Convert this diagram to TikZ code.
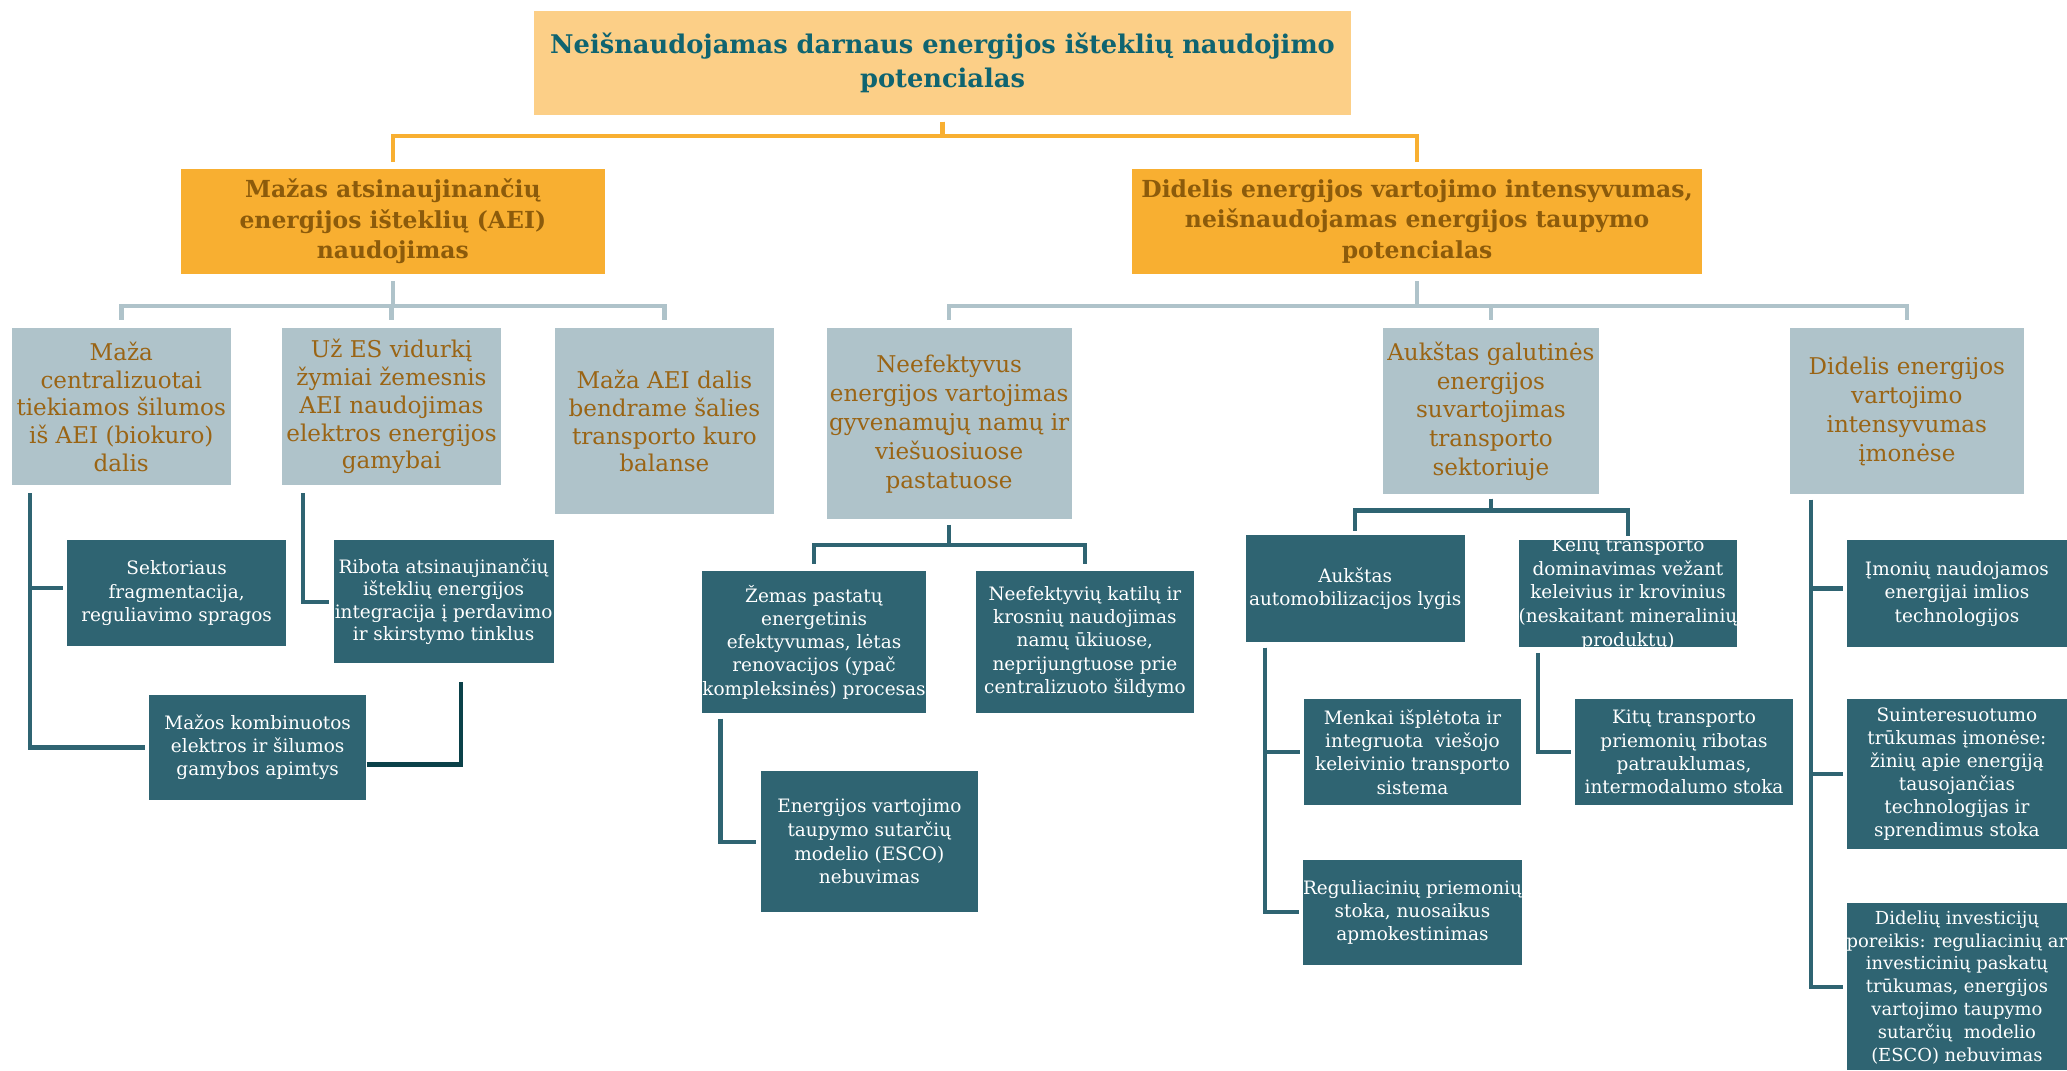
\documentclass[tikz,border=0pt]{standalone}
\usepackage{fontspec}
\setmainfont{DejaVu Serif}

\definecolor{titlefill}{HTML}{FCCF87}
\definecolor{titletext}{HTML}{0F6470}
\definecolor{headfill}{HTML}{F8AF31}
\definecolor{headtext}{HTML}{8C5B0B}
\definecolor{causefill}{HTML}{AFC3CA}
\definecolor{causetext}{HTML}{9A6414}
\definecolor{leaffill}{HTML}{2F6472}
\definecolor{darkline}{HTML}{0B4149}

\tikzset{
  titlebox/.style={fill=titlefill, text=titletext, align=center, inner sep=0pt,
    font=\bfseries\fontsize{19.5}{26}\selectfont},
  headbox/.style={fill=headfill, text=headtext, align=center, inner sep=0pt,
    font=\bfseries\fontsize{17.8}{23}\selectfont},
  causebox/.style={fill=causefill, text=causetext, align=center, inner sep=0pt,
    font=\fontsize{17.5}{21}\selectfont},
  leafbox/.style={fill=leaffill, text=white, align=center, inner sep=0pt,
    font=\fontsize{14}{17.6}\selectfont},
  leaftext/.style={text=white, align=center, inner sep=0pt,
    font=\fontsize{14}{17.6}\selectfont},
  oconn/.style={draw=headfill, line width=3.2pt, shorten <=5pt, shorten >=5pt},
  gconn/.style={draw=causefill, line width=3.4pt, shorten <=5pt, shorten >=6pt},
  tconn/.style={draw=leaffill, line width=3.2pt, shorten <=3pt, shorten >=3pt},
  side/.style={draw=leaffill, line width=3.2pt, shorten >=3pt},
  dconn/.style={draw=darkline, line width=3.2pt},
}

\begin{document}
\begin{tikzpicture}[x=1pt,y=-1pt]
\useasboundingbox (0,0) rectangle (1568,812);

% ---- root and the two main problem areas
\node[titlebox, minimum width=620pt, minimum height=79pt] (title) at (715,47.5)
  {Neišnaudojamas darnaus energijos išteklių naudojimo\\potencialas};
\node[headbox, minimum width=322pt, minimum height=80pt] (l1a) at (298,168)
  {Mažas atsinaujinančių\\energijos išteklių (AEI)\\naudojimas};
\node[headbox, minimum width=432pt, minimum height=80pt] (l1b) at (1075,168)
  {Didelis energijos vartojimo intensyvumas,\\neišnaudojamas energijos taupymo\\potencialas};

% ---- causes
\node[causebox, minimum width=166pt, minimum height=119pt] (a1) at (92,308.5)
  {Maža\\centralizuotai\\tiekiamos šilumos\\iš AEI (biokuro)\\dalis};
\node[causebox, minimum width=166pt, minimum height=119pt] (a2) at (297,308.5)
  {Už ES vidurkį\\žymiai žemesnis\\AEI naudojimas\\elektros energijos\\gamybai};
\node[causebox, minimum width=166pt, minimum height=141pt] (a3) at (504,319.5)
  {Maža AEI dalis\\bendrame šalies\\transporto kuro\\balanse};
\node[causebox, minimum width=186pt, minimum height=145pt,
  font=\fontsize{17.5}{22}\selectfont] (b1) at (720,321.5)
  {Neefektyvus\\energijos vartojimas\\gyvenamųjų namų ir\\viešuosiuose\\pastatuose};
\node[causebox, minimum width=164pt, minimum height=126pt,
  font=\fontsize{17.5}{21.7}\selectfont] (b2) at (1131,312)
  {Aukštas galutinės\\energijos\\suvartojimas\\transporto\\sektoriuje};
\node[causebox, minimum width=177pt, minimum height=126pt,
  font=\fontsize{17.5}{22}\selectfont] (b3) at (1446.5,312)
  {Didelis energijos\\vartojimo\\intensyvumas\\įmonėse};

% ---- detailed factors
\node[leafbox, minimum width=166pt, minimum height=80pt] (s1) at (134,450)
  {Sektoriaus\\fragmentacija,\\reguliavimo spragos};
\node[leafbox, minimum width=165pt, minimum height=80pt] (s2) at (195.5,567)
  {Mažos kombinuotos\\elektros ir šilumos\\gamybos apimtys};
\node[leafbox, minimum width=167pt, minimum height=93pt,
  font=\fontsize{14}{17}\selectfont] (r1) at (336.5,456.5)
  {Ribota atsinaujinančių\\išteklių energijos\\integracija į perdavimo\\ir skirstymo tinklus};

\node[leafbox, minimum width=165pt, minimum height=108pt] (z1) at (617.5,487)
  {Žemas pastatų\\energetinis\\efektyvumas, lėtas\\renovacijos (ypač\\kompleksinės) procesas};
\node[leafbox, minimum width=166pt, minimum height=108pt] (z2) at (823,487)
  {Neefektyvių katilų ir\\krosnių naudojimas\\namų ūkiuose,\\neprijungtuose prie\\centralizuoto šildymo};
\node[leafbox, minimum width=165pt, minimum height=107pt, font=\fontsize{14}{18}\selectfont]
  (z3) at (659.5,638.5)
  {Energijos vartojimo\\taupymo sutarčių\\modelio (ESCO)\\nebuvimas};

\node[leafbox, minimum width=166pt, minimum height=81pt] (t1) at (1028,446.5)
  {Aukštas\\automobilizacijos lygis};
\node[leafbox, minimum width=166pt, minimum height=81pt] (t2) at (1235,450.5) {};
\node[leaftext, font=\fontsize{14}{18}\selectfont] (t2txt) at (t2.center)
  {Kelių transporto\\dominavimas vežant\\keleivius ir krovinius\\(neskaitant mineralinių\\produktų)};
\node[leafbox, minimum width=165pt, minimum height=81pt] (t3) at (1071.5,570.5)
  {Menkai išplėtota ir\\integruota\ \ viešojo\\keleivinio transporto\\sistema};
\node[leafbox, minimum width=165pt, minimum height=81pt] (t4) at (1277.5,570.5)
  {Kitų transporto\\priemonių ribotas\\patrauklumas,\\intermodalumo stoka};
\node[leafbox, minimum width=165pt, minimum height=80pt] (t5) at (1071.5,692)
  {Reguliacinių priemonių\\stoka, nuosaikus\\apmokestinimas};

\node[leafbox, minimum width=167pt, minimum height=81pt] (i1) at (1484.5,450.5)
  {Įmonių naudojamos\\energijai imlios\\technologijos};
\node[leafbox, minimum width=167pt, minimum height=114pt, font=\fontsize{14}{17.4}\selectfont]
  (i2) at (1484.5,587)
  {Suinteresuotumo\\trūkumas įmonėse:\\žinių apie energiją\\tausojančias\\technologijas ir\\sprendimus stoka};
\node[leafbox, minimum width=167pt, minimum height=127pt] (i3) at (1484.5,748.5) {};
\node[leaftext, font=\fontsize{13.6}{17.3}\selectfont] (i3txt) at (1484.5,749)
  {Didelių investicijų\\poreikis: reguliacinių ar\\investicinių paskatų\\trūkumas, energijos\\vartojimo taupymo\\sutarčių\ \ modelio\\(ESCO) nebuvimas};

% ---- tree connectors
\draw[oconn] (title.south) -- ++(0,16) -| (l1a.north);
\draw[oconn] (title.south) -- ++(0,16) -| (l1b.north);

\foreach \c in {a1,a2,a3}
  \draw[gconn] (l1a.south) -- ++(0,24) -| (\c.north);
\foreach \c in {b1,b2,b3}
  \draw[gconn] (l1b.south) -- ++(0,24) -| (\c.north);

\foreach \c in {z1,z2}
  \draw[tconn, shorten <=4pt, shorten >=5pt] (b1.south) -- ++(0,19) -| (\c.north);
\foreach \c in {t1,t2}
  \draw[tconn] (b2.south) -- ++(0,12) -| (\c.north);

% ---- side branches
\draw[side] ([xshift=14pt,yshift=-6pt]a1.south west) |- ([yshift=4pt]s1.west);
\draw[side] ([xshift=14pt,yshift=-6pt]a1.south west) |- (s2.west);
\draw[side] ([xshift=16pt,yshift=-6pt]a2.south west) |- (r1.west);
\draw[dconn] ([yshift=-13pt]s2.east) -| ([xshift=13.5pt,yshift=-14pt]r1.south);

\draw[side] ([xshift=14pt,yshift=-4pt]z1.south west) |- (z3.west);

\draw[side] ([xshift=15pt,yshift=-4pt]t1.south west) |- (t3.west);
\draw[side] ([xshift=15pt,yshift=-4pt]t1.south west) |- (t5.west);
\draw[side] ([xshift=15pt,yshift=-4pt]t2.south west) |- (t4.west);

\draw[side] ([xshift=16pt,yshift=-4pt]b3.south west) |- ([yshift=4pt]i1.west);
\draw[side] ([xshift=16pt,yshift=-4pt]b3.south west) |- (i2.west);
\draw[side] ([xshift=16pt,yshift=-4pt]b3.south west) |- (i3.west);
\end{tikzpicture}
\end{document}
